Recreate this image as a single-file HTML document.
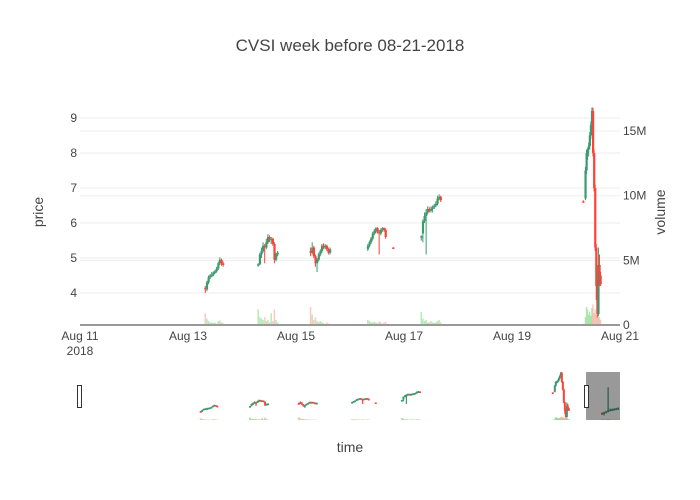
<!DOCTYPE html>
<html><head><meta charset="utf-8">
<style>
body{margin:0;background:#fff;}
svg{display:block;font-family:"Liberation Sans",Arial,sans-serif;}
</style></head>
<body>
<svg id="chart" width="700" height="500" viewBox="0 0 700 500">
  <rect width="700" height="500" fill="#fff"/>
  <text x="350" y="51" text-anchor="middle" font-size="17" fill="#444">CVSI week before 08-21-2018</text>
  <defs>
    <clipPath id="mainclip"><rect x="80" y="100" width="540" height="225"/></clipPath>
    <clipPath id="miniclip"><rect x="80" y="372" width="540" height="50"/></clipPath>
  </defs>
  <g id="grid"></g>
  <g id="vol" clip-path="url(#mainclip)"></g>
  <g id="candles" clip-path="url(#mainclip)"></g>
  <line x1="80" y1="325" x2="620" y2="325" stroke="#999" stroke-width="2"/>
  <g id="ticks" font-size="12" fill="#444"></g>
  <text transform="translate(43,212) rotate(-90)" text-anchor="middle" font-size="14" fill="#444">price</text>
  <text transform="translate(665,212) rotate(-90)" text-anchor="middle" font-size="14" fill="#444">volume</text>
  <text x="350" y="452" text-anchor="middle" font-size="14" fill="#444">time</text>
  <g id="mini" clip-path="url(#miniclip)"></g>
  <rect x="586" y="372" width="34" height="48" fill="rgba(0,0,0,0.4)"/>
  <rect x="77.5" y="385.5" width="4" height="22" fill="#fff" stroke="#333"/>
  <rect x="584.5" y="385.5" width="4" height="22" fill="#fff" stroke="#333"/>
</svg>
<script>
// time in days since Aug 11 2018 00:00
const times = [2.32,2.35,2.38,2.41,2.44,2.47,2.50,2.53,2.56,2.59,2.62,2.65,
 3.30,3.33,3.36,3.39,3.42,3.45,3.48,3.51,3.54,3.57,3.60,3.63,3.66,
 4.27,4.30,4.33,4.36,4.39,4.42,4.45,4.48,4.51,4.54,4.57,4.60,4.63,
 5.33,5.36,5.39,5.42,5.45,5.48,5.51,5.54,5.57,5.60,5.63,5.66,5.80,
 6.32,6.35,6.38,6.41,6.44,6.47,6.50,6.53,6.56,6.59,6.62,6.65,6.68,
 9.32,9.36,9.38,9.40,9.42,9.44,9.46,9.48,9.50,9.52,9.54,9.56,9.58,9.60,9.62,9.64,
 10.30,10.34,10.38,10.42,10.46,10.50,10.54,10.58,10.62];
const opens = [4.15,4.10,4.30,4.45,4.50,4.52,4.58,4.62,4.70,4.85,4.95,4.85,
 4.80,4.82,5.10,5.20,5.35,5.30,5.45,5.60,5.55,5.55,5.40,4.95,5.10,
 5.20,5.15,5.30,5.05,4.85,4.95,5.10,5.20,5.35,5.30,5.35,5.25,5.15,
 5.25,5.35,5.45,5.55,5.70,5.78,5.85,5.75,5.70,5.80,5.85,5.80,5.30,
 5.60,5.70,6.05,6.20,6.30,6.40,6.35,6.40,6.45,6.50,6.55,6.70,6.75,
 6.62,6.70,7.50,8.00,8.10,8.20,8.50,8.80,9.20,8.00,7.00,5.30,4.20,3.40,4.80,4.50,
 3.9,3.8,4.0,4.1,4.3,4.35,4.4,4.45,4.5];
const closes = [4.10,4.30,4.45,4.50,4.52,4.58,4.62,4.70,4.85,4.95,4.85,4.80,
 4.82,5.10,5.20,5.35,5.30,5.45,5.60,5.55,5.55,5.40,4.95,5.10,5.15,
 5.15,5.30,5.05,4.85,4.95,5.10,5.20,5.35,5.30,5.35,5.25,5.15,5.25,
 5.35,5.45,5.55,5.70,5.78,5.85,5.75,5.70,5.80,5.85,5.80,5.60,5.29,
 5.62,6.05,6.20,6.30,6.40,6.35,6.40,6.45,6.50,6.55,6.70,6.75,6.65,
 6.60,7.50,8.00,8.10,8.20,8.50,8.80,9.20,8.00,7.00,5.30,4.20,3.40,4.80,4.50,4.25,
 3.8,4.0,4.1,4.3,4.35,4.4,4.45,4.5,4.55];
const highs = [4.2,4.35,4.5,4.55,4.6,4.62,4.66,4.75,4.9,5.02,4.98,4.9,
 4.85,5.15,5.3,5.45,5.4,5.55,5.68,5.65,5.6,5.58,5.45,5.15,5.2,
 5.3,5.45,5.35,5.1,5.0,5.15,5.25,5.4,5.42,5.4,5.38,5.3,5.3,
 5.4,5.5,5.6,5.75,5.83,5.88,5.88,5.8,5.85,5.88,5.88,5.85,5.31,
 5.65,6.1,6.3,6.4,6.48,6.45,6.48,6.5,6.55,6.62,6.78,6.82,6.78,
 6.65,7.6,8.1,8.15,8.3,8.6,8.9,9.3,9.3,8.1,7.1,5.4,4.4,5.3,5.1,4.6,
 4.0,4.1,4.2,7.3,4.5,4.5,4.55,4.6,4.65];
const lows = [4.0,4.05,4.25,4.4,4.45,4.48,4.55,4.58,4.65,4.8,4.78,4.75,
 4.75,4.8,5.0,5.15,4.85,5.25,5.4,5.45,5.4,5.35,4.85,4.9,5.05,
 5.05,5.1,5.0,4.75,4.6,4.9,5.05,5.15,5.25,5.25,5.2,5.1,5.1,
 5.2,5.3,5.4,5.5,5.65,5.7,5.7,5.1,5.65,5.75,5.75,5.55,5.28,
 5.5,5.45,6.0,5.1,6.25,6.3,6.3,6.3,6.4,6.45,6.5,6.65,6.6,
 6.58,6.65,7.4,7.8,7.9,8.1,8.4,8.7,7.9,6.9,5.2,3.8,3.3,3.35,4.2,4.2,
 3.7,3.6,3.9,4.0,4.2,4.3,4.3,4.4,4.45];
const volumes = [0.9,0.5,0.3,0.2,0.2,0.15,0.2,0.1,0.3,0.35,0.2,0.15,
 1.2,0.6,0.5,0.4,0.6,0.3,0.4,0.2,0.9,0.3,1.2,0.4,0.2,
 1.4,0.8,0.4,0.6,0.3,0.2,0.3,0.2,0.15,0.1,0.2,0.1,0.1,
 0.4,0.3,0.2,0.2,0.25,0.2,0.15,0.3,0.2,0.1,0.2,0.25,0.05,
 1.0,0.5,0.3,0.4,0.2,0.2,0.3,0.2,0.15,0.2,0.3,0.4,0.2,
 0.1,0.6,1.4,1.2,0.8,1.0,0.7,1.3,1.6,0.9,1.2,0.8,1.5,1.1,0.6,0.4,
 0.3,0.2,0.2,0.4,0.2,0.1,0.1,0.2,0.1];
const priceTicks = [4,5,6,7,8,9];
const volTicks = [0,5,10,15];
const volTickLabels = ["0","5M","10M","15M"];
const dateTicks = [0,2,4,6,8,10];
const dateTickLabels = ["Aug 11","Aug 13","Aug 15","Aug 17","Aug 19","Aug 21"];

const NS="http://www.w3.org/2000/svg";
const xMain = d => 80 + d*54;
const yPrice = p => 293 - (p-4)*35;
const yVol = v => 325 - v*12.93;
const xMini = d => 84 + d*50.3;
const yMini = p => 420 - (p-3)*7.6;
const UP="#3D9970", DN="#FF4136";
function mk(tag, attrs, parent){const e=document.createElementNS(NS,tag);for(const k in attrs)e.setAttribute(k,attrs[k]);parent.appendChild(e);return e;}

const grid=document.getElementById('grid');
priceTicks.forEach(p=>{
  const l=mk('line',{x1:80,x2:620,y1:yPrice(p),y2:yPrice(p),stroke:'#eee','stroke-width':1},grid);
  
  
});
volTicks.forEach(v=>{ if(v===0) return;
  const l=mk('line',{x1:80,x2:620,y1:yVol(v),y2:yVol(v),stroke:'#eee','stroke-width':1},grid);
  
  
});
const ticks=document.getElementById('ticks');
priceTicks.forEach(p=>{
  const t=mk('text',{x:77,y:yPrice(p)+4,'text-anchor':'end'},ticks); t.textContent=p;
  
  
});
volTicks.forEach((v,i)=>{
  const t=mk('text',{x:623,y:yVol(v)+4,'text-anchor':'start'},ticks); t.textContent=volTickLabels[i];
  
  
});
dateTicks.forEach((d,i)=>{
  const t=mk('text',{x:xMain(d),y:340,'text-anchor':'middle'},ticks); t.textContent=dateTickLabels[i];
  
  
});
const yr=mk('text',{x:80,y:355,'text-anchor':'middle'},ticks); yr.textContent='2018';



const vol=document.getElementById('vol'), cg=document.getElementById('candles'), mini=document.getElementById('mini');
times.forEach((d,i)=>{
  const up=closes[i]>=opens[i], col=up?UP:DN, vcol=up?'#7CD67C':'#FF9A94';
  const x=xMain(d);
  const vb=mk('rect',{x:x-0.75,y:yVol(volumes[i]),width:1.5,height:325-yVol(volumes[i]),fill:vcol,opacity:0.55},vol);
  
  
  const w=mk('line',{x1:x,x2:x,y1:yPrice(highs[i]),y2:yPrice(lows[i]),stroke:col,'stroke-width':1},cg);
  
  
  const top=yPrice(Math.max(opens[i],closes[i])), bot=yPrice(Math.min(opens[i],closes[i]));
  const b=mk('rect',{x:x-1,y:top,width:2.2,height:Math.max(1.5,bot-top),fill:col},cg);
  
  
  // mini
  const mx=xMini(d);
  const mw=mk('line',{x1:mx,x2:mx,y1:yMini(highs[i]),y2:yMini(lows[i]),stroke:col,'stroke-width':1.2},mini);
  
  
  const mt=yMini(Math.max(opens[i],closes[i])), mbt=yMini(Math.min(opens[i],closes[i]));
  const mb=mk('rect',{x:mx-1,y:mt,width:2,height:Math.max(1.5,mbt-mt),fill:col},mini);
  
  
  const mv=mk('rect',{x:mx-1,y:420-volumes[i]*2,width:2,height:volumes[i]*2,fill:vcol,opacity:0.6},mini);
  
  
});
</script>
</body></html>
